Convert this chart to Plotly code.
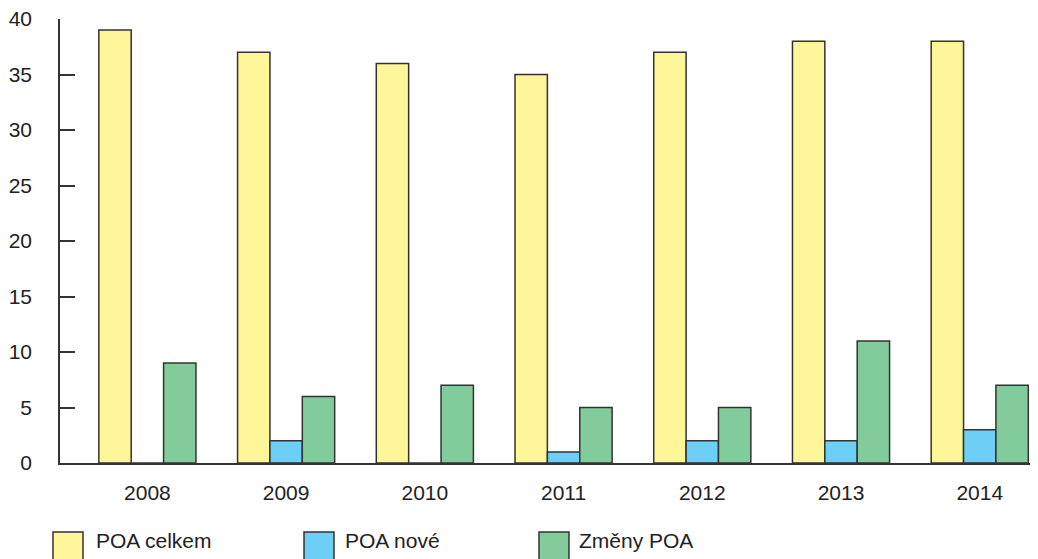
import plotly.graph_objects as go

# data
years = ["2008", "2009", "2010", "2011", "2012", "2013", "2014"]
poa_celkem = [39, 37, 36, 35, 37, 38, 38]
poa_nove = [0, 2, 0, 1, 2, 2, 3]
zmeny_poa = [9, 6, 7, 5, 5, 11, 7]

names = ["POA celkem", "POA nové", "Změny POA"]
colors = ["#FFF599", "#6DCFF6", "#82CC9C"]
series = [poa_celkem, poa_nove, zmeny_poa]

fig = go.Figure()
for name, vals, col in zip(names, series, colors):
    fig.add_trace(go.Bar(
        x=years, y=vals, name=name,
        marker=dict(color=col, line=dict(color="#333333", width=1.5)),
        showlegend=False,
    ))

# the page body adds an 8px margin, so the figure is a bit smaller than the window
OFF = 8
FW, FH = 1038 - OFF, 559 - OFF
# plot area in figure pixels
L, T, B = 60 - OFF, 19 - OFF, 463 - OFF

def px_x(v):
    return (v - OFF - L) / (FW - L)

def px_y(v):
    return (B - (v - OFF)) / (B - T)

# hand-made legend with big square swatches (page pixel positions)
legend_pos = [(53, 96), (304, 345), (539, 579)]
for (sx, tx), name, col in zip(legend_pos, names, colors):
    fig.add_shape(type="rect", xref="paper", yref="paper",
                  x0=px_x(sx), x1=px_x(sx + 30), y0=px_y(532), y1=px_y(566),
                  fillcolor=col, line=dict(color="#333333", width=1.5))
    fig.add_annotation(xref="paper", yref="paper", x=px_x(tx - 2), y=px_y(540),
                       text=name, showarrow=False, xanchor="left", yanchor="middle",
                       font=dict(size=21, color="#222222"))

fig.update_layout(
    width=FW, height=FH,
    margin=dict(l=L, r=0, t=T, b=FH - B),
    plot_bgcolor="white", paper_bgcolor="white",
    barmode="group", bargap=0.3, bargroupgap=0,
    font=dict(family="Liberation Sans, Arial, sans-serif", size=21, color="#222222"),
)
fig.update_xaxes(
    type="category", range=[-0.63, 6.42],
    showline=True, linecolor="#333333", linewidth=1.5,
    ticks="", showgrid=False, ticklabelstandoff=10,
)
fig.update_yaxes(
    range=[0, 40], tickvals=[0, 5, 10, 15, 20, 25, 30, 35, 40],
    showline=True, linecolor="#333333", linewidth=1.5,
    ticks="inside", ticklen=15, tickwidth=1.5, tickcolor="#333333",
    showgrid=False, zeroline=False, ticklabelstandoff=22,
    ticklabeloverflow="allow",
)

fig.write_html("out.html")
